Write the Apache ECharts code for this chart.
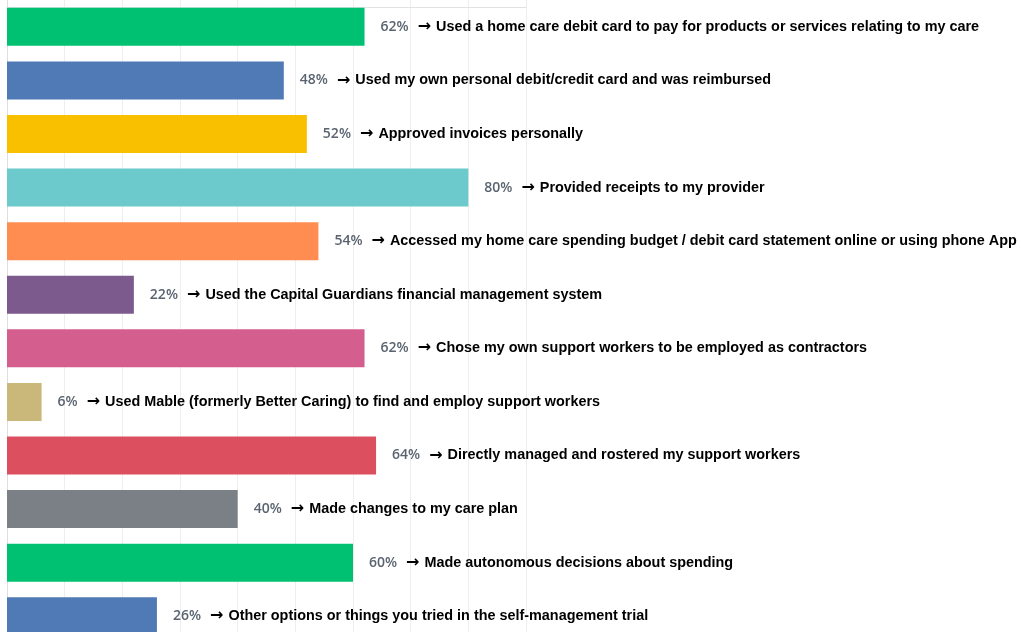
<!DOCTYPE html>
<html>
<head>
<meta charset="utf-8">
<script src="https://cdn.jsdelivr.net/npm/echarts@6/dist/echarts.min.js"></script>
<style>
  html, body { margin: 0; padding: 0; background: #ffffff; overflow: hidden; }
  /* the chart is a little taller than the window; its last row runs off the bottom edge */
  #chart { width: 1021px; height: 644px; }
</style>
</head>
<body>
<div id="chart"></div>
<script>
// Self-management trial activities, share of participants (%)
const activities = [
  'Used a home care debit card to pay for products or services relating to my care',
  'Used my own personal debit/credit card and was reimbursed',
  'Approved invoices personally',
  'Provided receipts to my provider',
  'Accessed my home care spending budget / debit card statement online or using phone App',
  'Used the Capital Guardians financial management system',
  'Chose my own support workers to be employed as contractors',
  'Used Mable (formerly Better Caring) to find and employ support workers',
  'Directly managed and rostered my support workers',
  'Made changes to my care plan',
  'Made autonomous decisions about spending',
  'Other options or things you tried in the self-management trial'
];
const shares = [62, 48, 52, 80, 54, 22, 62, 6, 64, 40, 60, 26];
const barColors = [
  '#00c171', '#4f7ab5', '#f9c000', '#6cc9cc', '#ff8c50', '#7d5a8e',
  '#d45e8e', '#c9b87a', '#dc4f5e', '#7a8086', '#00c171', '#4f7ab5'
];

const chart = echarts.init(document.getElementById('chart'), null, { renderer: 'canvas' });

chart.setOption({
  animation: false,
  backgroundColor: '#ffffff',
  grid: { left: 7, top: 0, width: 519, height: 643, containLabel: false },
  xAxis: {
    type: 'value',
    position: 'top',
    offset: -7,
    min: 0,
    max: 90,
    interval: 10,
    axisLine: { show: true, lineStyle: { color: '#e2e2e2', width: 1 } },
    axisTick: { show: false },
    axisLabel: { show: false },
    splitLine: { show: true, lineStyle: { color: '#eeeeee', width: 1 } }
  },
  yAxis: {
    type: 'category',
    inverse: true,
    data: activities,
    axisLine: { show: true, lineStyle: { color: '#dedede', width: 1 } },
    axisTick: { show: false },
    axisLabel: { show: false },
    splitLine: { show: false }
  },
  series: [{
    type: 'bar',
    barWidth: 38,
    data: shares.map((v, i) => ({
      value: v,
      itemStyle: { color: barColors[i] }
    })),
    label: {
      show: true,
      position: 'right',
      distance: 16,
      formatter: p => '{p|' + p.value + '%}{a|→}{t|' + activities[p.dataIndex] + '}',
      rich: {
        p: { color: '#5a6470', fontSize: 14, fontWeight: 600, fontFamily: 'Open Sans' },
        a: { color: '#000000', fontSize: 16, fontWeight: 'bold', fontFamily: 'DejaVu Sans', padding: [0, 5, 0, 9] },
        t: { color: '#000000', fontSize: 14.4, fontWeight: 'bold', fontFamily: 'Liberation Sans' }
      }
    }
  }]
});
</script>
</body>
</html>
